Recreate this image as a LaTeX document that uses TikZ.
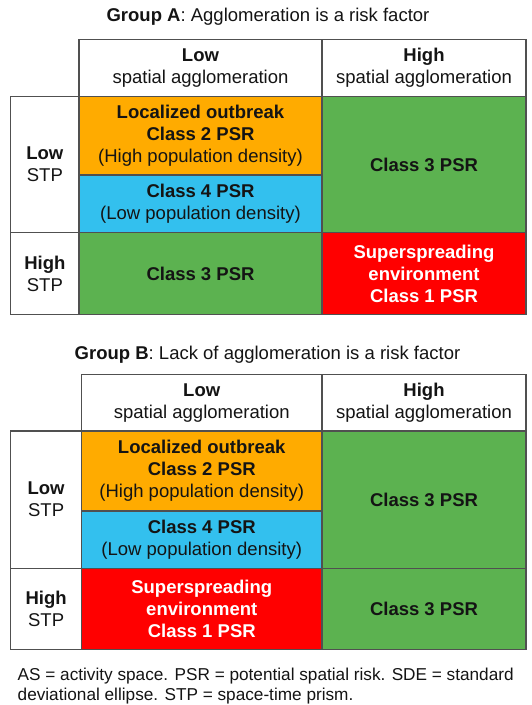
\documentclass[tikz,border=0pt]{standalone}
\usepackage{fontspec}
\setmainfont{Liberation Sans}
\definecolor{cOrange}{HTML}{FFAB00}
\definecolor{cBlue}{HTML}{33C0EE}
\definecolor{cGreen}{HTML}{5CB250}
\definecolor{cRed}{HTML}{FF0000}
\definecolor{cLine}{HTML}{505050}
\definecolor{cText}{HTML}{141414}
\tikzset{
  txt/.style={font=\fontsize{18.5}{22}\selectfont, text=cText},
  foottxt/.style={font=\fontsize{17.2}{21}\selectfont, text=cText},
  cell/.style={txt, draw=cLine, line width=1.1pt, inner sep=0pt, align=center, anchor=center},
}
\begin{document}
\begin{tikzpicture}[x=1pt,y=-1pt]
\useasboundingbox[fill=white] (0,0) rectangle (531,705);
% ---------- Group A ----------
\node[txt, anchor=center] (titleA) at (268,17) {\textbf{Group A}: Agglomeration is a risk factor};
\node[cell, fill=white, minimum width=243pt, minimum height=57.4pt] (aHL) at (200.5,68) {\textbf{Low}\\spatial agglomeration};
\node[cell, fill=white, minimum width=204pt, minimum height=57.4pt] (aHH) at (424,68) {\textbf{High}\\spatial agglomeration};
\node[cell, fill=white, minimum width=68.3pt, minimum height=136pt] (aLL) at (44.85,164.7) {\textbf{Low}\\STP};
\node[cell, fill=cOrange, minimum width=243pt, minimum height=78.3pt] (aOr) at (200.5,135.85) {\textbf{Localized outbreak}\\\textbf{Class 2 PSR}\\(High population density)};
\node[cell, fill=cBlue, minimum width=243pt, minimum height=57.7pt] (aBl) at (200.5,203.85) {\textbf{Class 4 PSR}\\(Low population density)};
\node[cell, fill=cGreen, minimum width=204pt, minimum height=136pt] (aGr1) at (424,164.7) {\textbf{Class 3 PSR}};
\node[cell, fill=white, minimum width=68.3pt, minimum height=81.6pt] (aLH) at (44.85,273.5) {\textbf{High}\\STP};
\node[cell, fill=cGreen, minimum width=243pt, minimum height=81.6pt] (aGr2) at (200.5,273.5) {\textbf{Class 3 PSR}};
\node[cell, fill=cRed, text=white, minimum width=204pt, minimum height=81.6pt] (aRd) at (424,273.5) {\textbf{Superspreading}\\\textbf{environment}\\\textbf{Class 1 PSR}};
% ---------- Group B ----------
\node[txt, anchor=center] (titleB) at (267.5,355) {\textbf{Group B}: Lack of agglomeration is a risk factor};
\node[cell, fill=white, minimum width=240.5pt, minimum height=56.7pt] (bHL) at (201.75,402.65) {\textbf{Low}\\spatial agglomeration};
\node[cell, fill=white, minimum width=204pt, minimum height=56.7pt] (bHH) at (424,402.65) {\textbf{High}\\spatial agglomeration};
\node[cell, fill=white, minimum width=70.8pt, minimum height=137.3pt] (bLL) at (46.1,499.65) {\textbf{Low}\\STP};
\node[cell, fill=cOrange, minimum width=240.5pt, minimum height=80pt] (bOr) at (201.75,471) {\textbf{Localized outbreak}\\\textbf{Class 2 PSR}\\(High population density)};
\node[cell, fill=cBlue, minimum width=240.5pt, minimum height=57.3pt] (bBl) at (201.75,539.65) {\textbf{Class 4 PSR}\\(Low population density)};
\node[cell, fill=cGreen, minimum width=204pt, minimum height=137.3pt] (bGr1) at (424,499.65) {\textbf{Class 3 PSR}};
\node[cell, fill=white, minimum width=70.8pt, minimum height=81pt] (bLH) at (46.1,608.8) {\textbf{High}\\STP};
\node[cell, fill=cRed, text=white, minimum width=240.5pt, minimum height=81pt] (bRd) at (201.75,608.8) {\textbf{Superspreading}\\\textbf{environment}\\\textbf{Class 1 PSR}};
\node[cell, fill=cGreen, minimum width=204pt, minimum height=81pt] (bGr2) at (424,608.8) {\textbf{Class 3 PSR}};
% ---------- Footnote ----------
\node[foottxt, anchor=base west, inner sep=0pt] (foot1) at (17.5,680) {AS = activity space. PSR = potential spatial risk. SDE = standard};
\node[foottxt, anchor=base west, inner sep=0pt] (foot2) at (17.5,700.5) {deviational ellipse. STP = space-time prism.};
\end{tikzpicture}
\end{document}
